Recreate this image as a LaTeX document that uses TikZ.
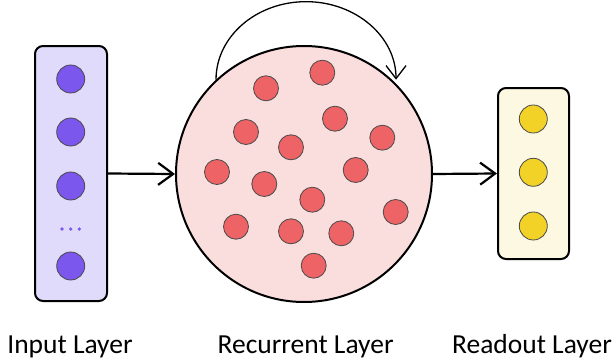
\documentclass[tikz,border=0pt]{standalone}
\usepackage{fontspec}
\setmainfont{Carlito}
\usetikzlibrary{arrows.meta}
\definecolor{inbox}{HTML}{E0DBFB}
\definecolor{inneur}{HTML}{7B57EE}
\definecolor{recfill}{HTML}{FADEDE}
\definecolor{recneur}{HTML}{EE6366}
\definecolor{outbox}{HTML}{FDF8E2}
\definecolor{outneur}{HTML}{F2D227}
\definecolor{nborder}{HTML}{4A4A4A}
\tikzset{
  layerbox/.style={draw=black, line width=2pt, rounded corners=8pt, inner sep=0pt},
  neuron/.style={circle, draw=nborder, line width=0.8pt, minimum size=#1, inner sep=0pt},
  inn/.style={neuron=28pt, fill=inneur},
  recn/.style={neuron=25pt, fill=recneur},
  outn/.style={neuron=28pt, fill=outneur},
  dot/.style={circle, fill=inneur, minimum size=3.6pt, inner sep=0pt},
  flow/.style={line width=2.2pt, arrows={-Straight Barb[length=15pt,width=22pt]}},
  lbl/.style={font=\fontsize{27.5}{32}\selectfont, anchor=base, inner sep=0pt},
}
\begin{document}
\begin{tikzpicture}[x=1pt,y=1pt]
\useasboundingbox (0,0) rectangle (614,360);
% input layer
\node[layerbox, fill=inbox, minimum width=72pt, minimum height=255pt] (input) at (71,186.5) {};
\node[inn] (i1) at (70.7,281) {};
\node[inn] (i2) at (70.7,228) {};
\node[inn] (i3) at (70.7,174) {};
\node[dot] (d1) at (62,131) {};
\node[dot] (d2) at (70.7,131) {};
\node[dot] (d3) at (79.3,131) {};
\node[inn] (i4) at (70.7,94) {};
% recurrent layer
\node[circle, draw=black, line width=2pt, fill=recfill, minimum size=256pt, inner sep=0pt] (res) at (304,186) {};
\node[recn] (r1) at (266,271.7) {};
\node[recn] (r2) at (322.3,287.3) {};
\node[recn] (r3) at (246,228) {};
\node[recn] (r4) at (335,241.3) {};
\node[recn] (r5) at (382.3,222.3) {};
\node[recn] (r6) at (291,212.7) {};
\node[recn] (r7) at (217,188) {};
\node[recn] (r8) at (264.3,176) {};
\node[recn] (r9) at (355.7,190) {};
\node[recn] (r10) at (312.3,160.3) {};
\node[recn] (r11) at (395.7,148) {};
\node[recn] (r12) at (236,133.3) {};
\node[recn] (r13) at (291,128.7) {};
\node[recn] (r14) at (341.3,126.7) {};
\node[recn] (r15) at (313.7,94.3) {};
% readout layer
\node[layerbox, fill=outbox, minimum width=71pt, minimum height=171pt] (readout) at (533.5,186.5) {};
\node[outn] (o1) at (533.3,241) {};
\node[outn] (o2) at (533.3,187.7) {};
\node[outn] (o3) at (533.3,134) {};
% connectors
\draw[flow] (input.east) -- (res.west);
\draw[flow] (res.east) -- (readout.west);
\coordinate (loopstart) at (res.133.5);
\draw[line width=1.3pt, arrows={-Straight Barb[length=13pt,width=20pt]}]
  (loopstart) arc[start angle=180, end angle=0, x radius=90pt, y radius=78pt];
% labels
\node[lbl] (lin) at (70,6.5) {Input Layer};
\node[lbl] (lrec) at (305.6,6.5) {Recurrent Layer};
\node[lbl] (lout) at (532,6.5) {Readout Layer};
\end{tikzpicture}
\end{document}
